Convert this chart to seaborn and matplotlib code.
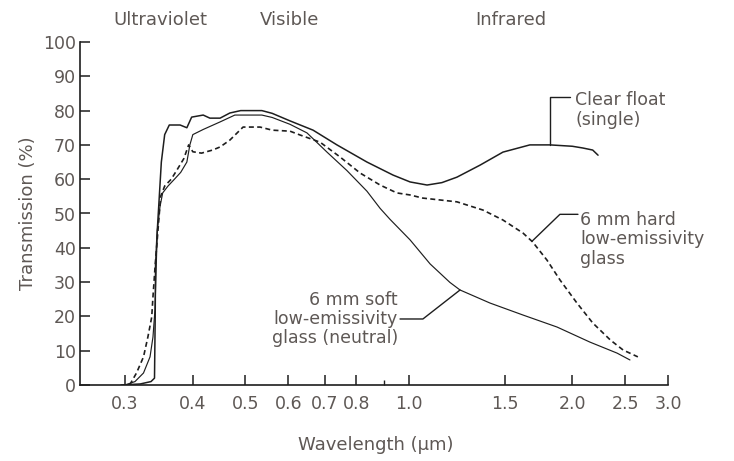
import numpy as np
import matplotlib
matplotlib.use("Agg")
import matplotlib.pyplot as plt
import matplotlib.transforms as mtransforms
from matplotlib.ticker import FixedLocator, FixedFormatter, NullFormatter
import seaborn as sns

# Spectral transmission curves: wavelength (um) and transmission (%)
clear_wl = [0.295, 0.320, 0.335, 0.340, 0.341, 0.3415, 0.344, 0.347, 0.350, 0.355,
            0.362, 0.379, 0.390, 0.398, 0.418, 0.430, 0.449, 0.468, 0.490, 0.536,
            0.560, 0.604, 0.666, 0.737, 0.837, 0.935, 1.005, 1.080, 1.150, 1.226,
            1.352, 1.490, 1.670, 1.820, 2.000, 2.090, 2.180, 2.230]
clear_T = [0.0, 0.3, 1.0, 2.0, 20.0, 35.0, 45.0, 55.0, 65.0, 73.0,
           75.8, 75.8, 75.0, 78.1, 78.7, 77.8, 77.8, 79.3, 80.0, 80.0,
           79.2, 77.0, 74.3, 70.0, 65.0, 61.2, 59.2, 58.3, 59.0, 60.6,
           64.1, 67.9, 70.0, 70.0, 69.6, 69.1, 68.5, 67.0]

hard_wl = [0.306, 0.315, 0.3245, 0.3306, 0.336, 0.3378, 0.341, 0.345, 0.349, 0.355,
           0.365, 0.375, 0.385, 0.393, 0.400, 0.415, 0.435, 0.449, 0.468, 0.495,
           0.532, 0.560, 0.604, 0.630, 0.686, 0.7465, 0.813, 0.885, 0.950, 1.005,
           1.060, 1.226, 1.369, 1.490, 1.622, 1.690, 1.796, 1.898, 2.039, 2.180,
           2.350, 2.480, 2.640]
hard_T = [0.0, 3.5, 8.2, 14.0, 19.8, 25.7, 35.0, 45.0, 55.0, 58.0,
          60.0, 63.0, 66.0, 70.0, 68.0, 67.6, 68.5, 69.4, 71.4, 75.2,
          75.2, 74.3, 74.0, 72.9, 70.8, 66.5, 61.8, 58.3, 56.0, 55.4,
          54.5, 53.4, 51.0, 48.1, 44.3, 41.7, 36.4, 30.6, 23.9, 18.1,
          13.1, 10.2, 8.2]

soft_wl = [0.300, 0.313, 0.3245, 0.3336, 0.3378, 0.3407, 0.344, 0.348, 0.352, 0.360,
           0.370, 0.380, 0.390, 0.395, 0.400, 0.418, 0.449, 0.478, 0.536, 0.560,
           0.604, 0.649, 0.7065, 0.769, 0.837, 0.885, 0.923, 1.005, 1.094, 1.190,
           1.242, 1.410, 1.622, 1.874, 2.155, 2.417, 2.553]
soft_T = [0.0, 1.0, 3.5, 8.2, 14.0, 22.0, 45.0, 52.0, 56.0, 58.0,
          60.0, 62.0, 65.0, 70.0, 73.0, 74.5, 76.7, 78.7, 78.7, 78.0,
          76.0, 73.5, 67.9, 62.5, 56.5, 51.5, 48.3, 42.3, 35.3, 29.9,
          27.7, 23.9, 20.4, 16.9, 12.5, 9.3, 7.3]

x_ticks = [0.3, 0.4, 0.5, 0.6, 0.7, 0.8, 1.0, 1.5, 2.0, 2.5, 3.0]
x_tick_labels = ["0.3", "0.4", "0.5", "0.6", "0.7", "0.8", "1.0", "1.5", "2.0", "2.5", "3.0"]
y_ticks = [0, 10, 20, 30, 40, 50, 60, 70, 80, 90, 100]

bands = ["Ultraviolet", "Visible", "Infrared"]
band_centres = [0.348, 0.604, 1.542]

sns.set_theme(style="ticks")
plt.rcParams["font.family"] = ["DejaVu Sans"]

INK = "#1e1e1e"
TEXT = "#5e5855"

fig = plt.figure(figsize=(7.34, 4.61), dpi=100)
ax = fig.add_axes([80 / 734, 1 - 385 / 461, 588 / 734, 343 / 461])

series = [
    (clear_wl, clear_T, 1.1, "-"),
    (hard_wl, hard_T, 1.2, (0, (3, 2))),
    (soft_wl, soft_T, 0.85, "-"),
]
for wl, T, lw, ls in series:
    sns.lineplot(x=wl, y=T, ax=ax, color=INK, lw=lw, linestyle=ls,
                 estimator=None, sort=False, legend=False)

ax.set_xscale("log")
ax.set_xlim(0.2479, 3.0)
ax.set_ylim(0, 100)

ax.xaxis.set_major_locator(FixedLocator(x_ticks))
ax.xaxis.set_major_formatter(FixedFormatter(x_tick_labels))
ax.xaxis.set_minor_locator(FixedLocator([0.9]))
ax.xaxis.set_minor_formatter(NullFormatter())
ax.yaxis.set_major_locator(FixedLocator(y_ticks))
ax.yaxis.set_minor_locator(FixedLocator([]))

ax.tick_params(which="major", direction="in", length=7, width=1.1, color=INK,
               labelcolor=TEXT, labelsize=12.5)
ax.tick_params(axis="x", which="major", pad=7)
ax.tick_params(axis="y", which="major", pad=3)
ax.tick_params(axis="x", which="minor", direction="in", length=3.5, width=1.0, color=INK)

for side in ("top", "right"):
    ax.spines[side].set_visible(False)
for side in ("left", "bottom"):
    ax.spines[side].set_color(INK)
    ax.spines[side].set_linewidth(1.2)

ax.set_xlabel("Wavelength (µm)", fontsize=13, color=TEXT)
ax.set_ylabel("Transmission (%)", fontsize=13, color=TEXT)
ax.xaxis.label.set_va("center")
ax.xaxis.set_label_coords(0.503, -0.175)
ax.yaxis.label.set_va("center")
ax.yaxis.set_label_coords(-0.088, 0.5)

band_tf = mtransforms.blended_transform_factory(ax.transData, ax.transAxes)
for name, centre in zip(bands, band_centres):
    ax.text(centre, 1.064, name, transform=band_tf, ha="center", va="center",
            fontsize=13, color=TEXT)


def point_on(wl, T, at):
    return at, float(np.interp(np.log(at), np.log(wl), T))


def leader(anchor, end, angle_b):
    ax.annotate("", xy=anchor, xytext=end, textcoords="offset pixels",
                arrowprops=dict(arrowstyle="-", color=INK, lw=1.0, shrinkA=0, shrinkB=0,
                                connectionstyle=f"angle,angleA=0,angleB={angle_b},rad=0"))


# Clear float label
a = point_on(clear_wl, clear_T, 1.819)
leader(a, (20, 48), 90)
ax.annotate("Clear float\n(single)", xy=a, xytext=(25, 35), textcoords="offset pixels",
            ha="left", va="center", fontsize=12.5, color=TEXT, linespacing=1.1)

# Hard low-e label
a = point_on(hard_wl, hard_T, 1.685)
leader(a, (46, 27), 44)
ax.annotate("6 mm hard\nlow-emissivity\nglass", xy=a, xytext=(48, 2), textcoords="offset pixels",
            ha="left", va="center", fontsize=12.5, color=TEXT, linespacing=1.1)

# Soft low-e label
a = point_on(soft_wl, soft_T, 1.242)
leader(a, (-60, -29), 38)
ax.annotate("6 mm soft\nlow-emissivity\nglass (neutral)", xy=a, xytext=(-62, -29),
            textcoords="offset pixels", ha="right", va="center", multialignment="right",
            fontsize=12.5, color=TEXT, linespacing=1.1)

fig.savefig("out.png", dpi=100)
